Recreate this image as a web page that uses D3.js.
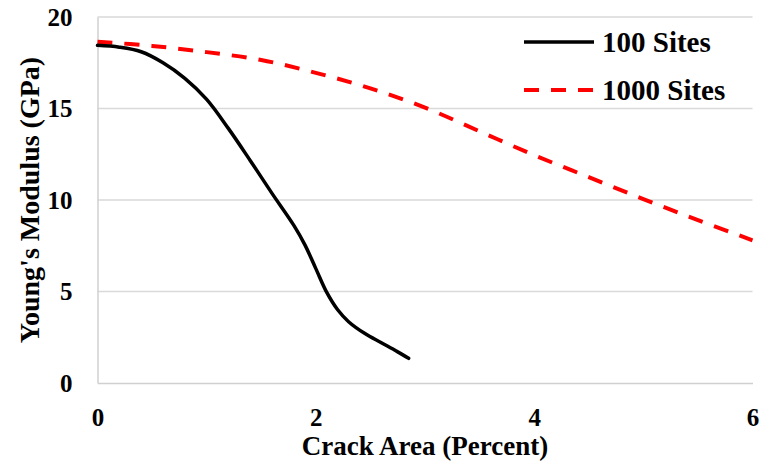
<!DOCTYPE html>
<html>
<head>
<meta charset="utf-8">
<script src="https://cdn.jsdelivr.net/npm/d3@7"></script>
<style>
  html, body { margin: 0; padding: 0; background: #fff; }
  svg { display: block; }
  text { font-family: "Liberation Serif", "Times New Roman", serif; font-weight: bold; fill: #000; }
</style>
</head>
<body>
<svg id="chart" width="761" height="474"></svg>
<script>
// ---- data ----
const sites100X = [0, 0.2, 0.4, 0.6, 0.8, 1.0, 1.2, 1.4, 1.6, 1.8, 1.9, 2.0, 2.1, 2.2, 2.3, 2.45, 2.6, 2.75, 2.85];
const sites100Y = [18.45, 18.35, 18.1, 17.5, 16.65, 15.5, 13.9, 12.15, 10.35, 8.6, 7.55, 6.25, 4.95, 4.0, 3.35, 2.7, 2.2, 1.7, 1.35];
const sites1000X = [0, 0.5, 1, 1.5, 2, 2.5, 3, 3.5, 4, 4.5, 5, 5.5, 6];
const sites1000Y = [18.65, 18.42, 18.08, 17.65, 16.95, 16.1, 15.05, 13.75, 12.45, 11.25, 10.05, 8.9, 7.8];
const xTicks = [0, 2, 4, 6];
const yTicks = [0, 5, 10, 15, 20];
const seriesNames = ["100 Sites", "1000 Sites"];
const xTitle = "Crack Area (Percent)";
const yTitle = "Young's Modulus (GPa)";

const svg = d3.select("#chart");
const x = d3.scaleLinear().domain([0, 6]).range([97.5, 752.5]);
const y = d3.scaleLinear().domain([0, 20]).range([383, 17]);

// gridlines
svg.append("g").selectAll("line").data(yTicks.filter(d => d > 0)).join("line")
  .attr("x1", x(0)).attr("x2", x(6))
  .attr("y1", d => y(d)).attr("y2", d => y(d))
  .attr("stroke", "#d9d9d9").attr("stroke-width", 1.5);

// axes
const gx = svg.append("g").attr("transform", `translate(0,${y(0)})`)
  .call(d3.axisBottom(x).tickValues(xTicks).tickSize(0).tickPadding(25).tickFormat(d3.format("d")));
const gy = svg.append("g").attr("transform", `translate(${x(0)},0)`)
  .call(d3.axisLeft(y).tickValues(yTicks).tickSize(0).tickPadding(25).tickFormat(d3.format("d")));
[gx, gy].forEach(g => {
  g.select(".domain").attr("stroke", "#d0d0d0").attr("stroke-width", 1.5);
  g.selectAll("text").attr("font-size", 25).attr("fill", "#000");
});

// lines
const line = d3.line().x(d => x(d[0])).y(d => y(d[1])).curve(d3.curveCatmullRom.alpha(0.5));
const data100 = sites100X.map((v, i) => [v, sites100Y[i]]);
const data1000 = sites1000X.map((v, i) => [v, sites1000Y[i]]);

svg.append("path").datum(data1000).attr("d", line)
  .attr("fill", "none").attr("stroke", "#ff0000").attr("stroke-width", 4)
  .attr("stroke-dasharray", "15,12");
svg.append("path").datum(data100).attr("d", line)
  .attr("fill", "none").attr("stroke", "#000").attr("stroke-width", 3.5)
  .attr("stroke-linejoin", "round").attr("stroke-linecap", "round");

// legend
const legend = svg.append("g");
const legendStyles = [
  { stroke: "#000", width: 3.5, dash: null },
  { stroke: "#ff0000", width: 4, dash: "15,12" }
];
seriesNames.forEach((name, i) => {
  const ly = 42 + i * 48;
  legend.append("line").attr("x1", 524).attr("x2", 594).attr("y1", ly).attr("y2", ly)
    .attr("stroke", legendStyles[i].stroke).attr("stroke-width", legendStyles[i].width)
    .attr("stroke-dasharray", legendStyles[i].dash);
  legend.append("text").attr("x", 602).attr("y", ly + 10).attr("font-size", 29).text(name);
});

// axis titles
svg.append("text").attr("x", x(3)).attr("y", 455).attr("text-anchor", "middle")
  .attr("font-size", 27).text(xTitle);
svg.append("text").attr("transform", `translate(39,${y(10)}) rotate(-90)`)
  .attr("text-anchor", "middle").attr("font-size", 28).text(yTitle);
</script>
</body>
</html>
